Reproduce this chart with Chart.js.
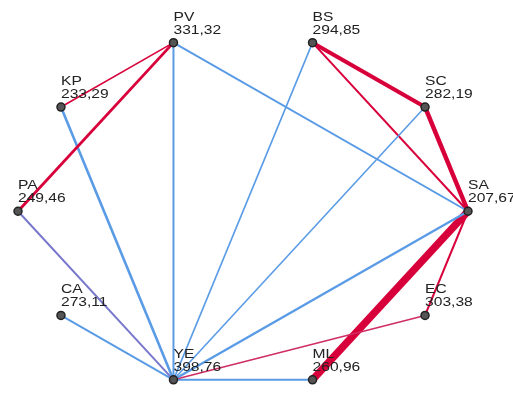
<!DOCTYPE html>
<html>
<head>
<meta charset="utf-8">
<script src="https://cdn.jsdelivr.net/npm/chart.js@4"></script>
<style>
html,body{margin:0;padding:0;background:#fff;}
#wrap{width:513px;height:394px;}
</style>
</head>
<body>
<div id="wrap"><canvas id="c" width="513" height="394"></canvas></div>
<script>
// Nodes in clockwise order starting at the right (angle index k -> k*36 degrees)
const nodeNames = ['SA','EC','ML','YE','CA','PA','KP','PV','BS','SC'];
const nodeValues = ['207,67','303,38','260,96','398,76','273,11','249,46','233,29','331,32','294,85','282,19'];
const nodeSlots = [0,1,2,3,4,5,6,7,8,9];

// Edges
const edgeFrom   = ['KP','PA','PV','PV','KP','PA','CA','BS','SC','SA','EC','ML','BS','BS','SC','SA','SA'];
const edgeTo     = ['PV','PV','YE','SA','YE','YE','YE','YE','YE','YE','YE','YE','SC','SA','SA','ML','EC'];
const edgeType   = ['neg','neg','pos','pos','pos','mix','pos','pos','pos','pos','negm','pos','neg','neg','neg','neg','neg'];
const edgeWeight = [1.6,2.8,2,2,2.6,2,2,1.6,1.6,2.4,1.6,2,4,2,4.5,7.5,2];

const colors = {pos:'#5a9be6', neg:'#d8003a', mix:'#7878cc', negm:'#cf2e64'};

function slotPos(k){
  const a = k*Math.PI/5;
  return {x: Math.cos(a), y: -Math.sin(a)};
}
const posOf = {};
nodeNames.forEach((n,i)=>{ posOf[n]=slotPos(nodeSlots[i]); });

const datasets = [];
edgeFrom.forEach((f,i)=>{
  datasets.push({
    type:'scatter',
    data:[posOf[f], posOf[edgeTo[i]]],
    showLine:true,
    borderColor:colors[edgeType[i]],
    borderWidth:edgeWeight[i],
    pointRadius:0,
    clip:false,
    order:1
  });
});
datasets.push({
  type:'scatter',
  data:nodeNames.map(n=>posOf[n]),
  pointRadius:4,
  pointBackgroundColor:'#555',
  pointBorderColor:'#222',
  pointBorderWidth:1.5,
  showLine:false,
  clip:false,
  order:0
});

const labelPlugin = {
  id:'nodeLabels',
  afterDatasetsDraw(chart){
    const ctx = chart.ctx;
    const xs = chart.scales.x, ys = chart.scales.y;
    ctx.save();
    ctx.fillStyle = '#222';
    ctx.font = '13px "Liberation Sans", Arial, sans-serif';
    ctx.textAlign = 'left';
    ctx.textBaseline = 'alphabetic';
    nodeNames.forEach((n,i)=>{
      const p = posOf[n];
      const px = xs.getPixelForValue(p.x);
      const py = ys.getPixelForValue(p.y);
      ctx.save();
      ctx.translate(px, py);
      ctx.scale(1.2, 1);
      ctx.fillText(n, 0, -22);
      ctx.fillText(nodeValues[i], 0, -9);
      ctx.restore();
    });
    ctx.restore();
  }
};

new Chart(document.getElementById('c'), {
  type:'scatter',
  data:{datasets},
  options:{
    responsive:false,
    animation:false,
    layout:{padding:{left:18,right:45,top:34,bottom:2}},
    plugins:{legend:{display:false},tooltip:{enabled:false}},
    scales:{
      x:{type:'linear',min:-1,max:1,display:false},
      y:{type:'linear',min:-1,max:1,display:false}
    }
  },
  plugins:[labelPlugin]
});
</script>
</body>
</html>
